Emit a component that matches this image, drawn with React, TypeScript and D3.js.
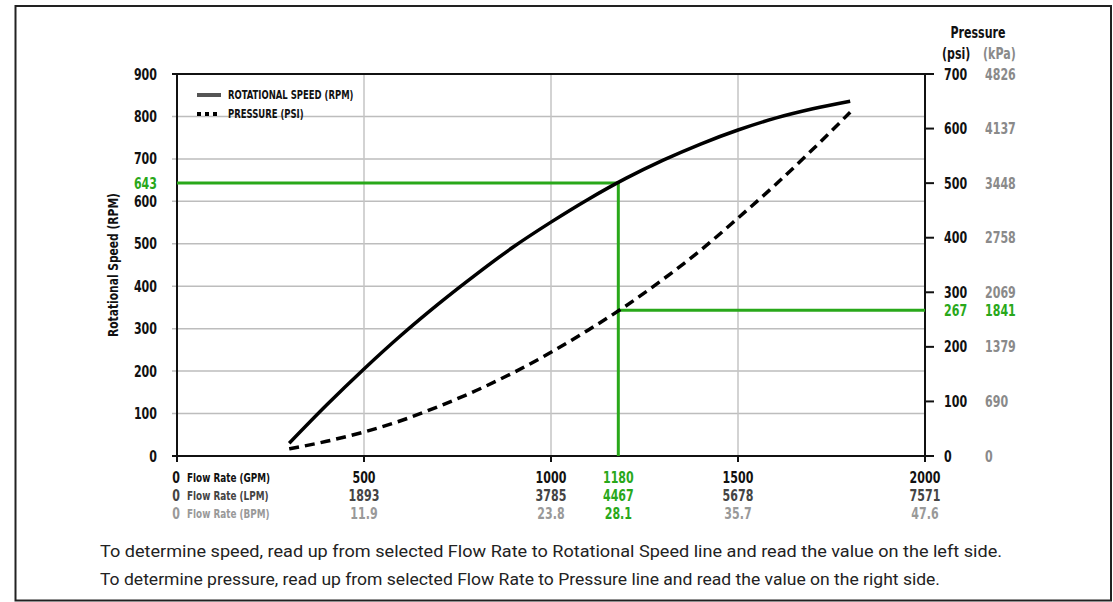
import { useMemo } from "react";
import * as d3 from "d3";

const flowGpm = [300, 400, 500, 600, 700, 800, 900, 1000, 1100, 1200, 1300, 1400, 1500, 1600, 1700, 1800];
const speedRpm = [30, 120, 205, 285, 359, 428, 493, 551, 605, 654, 697, 735, 768, 796, 818, 836];
const pressurePsi = [13, 27, 44, 65, 91, 120, 153, 190, 231, 275, 324, 377, 436, 497, 562, 630];

const gpmTicks = [500, 1000, 1500, 2000];
const lpmTicks = ["1893", "3785", "5678", "7571"];
const bpmTicks = ["11.9", "23.8", "35.7", "47.6"];
const rpmTicks = [0, 100, 200, 300, 400, 500, 600, 700, 800, 900];
const psiTicks = [0, 100, 200, 300, 400, 500, 600, 700];
const kpaTicks = ["0", "690", "1379", "2069", "2758", "3448", "4137", "4826"];

// highlighted reading
const selGpm = 1180;
const selLpm = "4467";
const selBpm = "28.1";
const selRpm = 643;
const selPsi = 267;
const selKpa = "1841";

const W = 1113;
const H = 602;
const plot = { left: 177, right: 925, top: 74, bottom: 456 };
const GREEN = "#29a81a";
const COND = "'DejaVu Sans Condensed', 'DejaVu Sans', sans-serif";
const SQUEEZE = 0.82;

// condensed label: DejaVu Condensed squeezed horizontally a bit more
function T({
  x,
  y,
  size = 15,
  fill = "#111",
  anchor = "start",
  rotate = 0,
  children,
}: {
  x: number;
  y: number;
  size?: number;
  fill?: string;
  anchor?: "start" | "middle" | "end";
  rotate?: number;
  children: any;
}) {
  return (
    <text
      transform={`translate(${x},${y}) rotate(${rotate}) scale(${SQUEEZE},1)`}
      fontSize={size}
      fill={fill}
      textAnchor={anchor}
    >
      {children}
    </text>
  );
}

export default function App() {
  const x = d3.scaleLinear().domain([0, 2000]).range([plot.left, plot.right]);
  const yL = d3.scaleLinear().domain([0, 900]).range([plot.bottom, plot.top]);
  const yR = d3.scaleLinear().domain([0, 700]).range([plot.bottom, plot.top]);

  const speedPath = useMemo(
    () =>
      d3
        .line<number>()
        .x((_d, i) => x(flowGpm[i]))
        .y((d) => yL(d))
        .curve(d3.curveMonotoneX)(speedRpm),
    []
  );
  const pressurePath = useMemo(
    () =>
      d3
        .line<number>()
        .x((_d, i) => x(flowGpm[i]))
        .y((d) => yR(d))
        .curve(d3.curveMonotoneX)(pressurePsi),
    []
  );

  const row1 = 483;
  const row2 = 501;
  const row3 = 519;

  return (
    <svg
      width={W}
      height={H}
      style={{ position: "absolute", left: 0, top: 0, background: "#fff" }}
      fontFamily={COND}
      fontWeight="bold"
    >
      {/* outer frame */}
      <rect x={15.5} y={6} width={1095.5} height={594.5} fill="none" stroke="#222" strokeWidth={2} />

      {/* grid */}
      {rpmTicks
        .filter((t) => t > 0 && t < 900)
        .map((t) => (
          <line key={"h" + t} x1={plot.left - 5} x2={plot.right} y1={yL(t)} y2={yL(t)} stroke="#bdbdbd" strokeWidth={1.5} />
        ))}
      {gpmTicks
        .filter((t) => t < 2000)
        .map((t) => (
          <line key={"v" + t} x1={x(t)} x2={x(t)} y1={plot.top} y2={plot.bottom} stroke="#c4c4c4" strokeWidth={1.5} />
        ))}

      {/* frame of plot */}
      <line x1={plot.left} x2={plot.right} y1={plot.top} y2={plot.top} stroke="#111" strokeWidth={2} />
      <line x1={plot.left - 5} x2={plot.right} y1={plot.bottom} y2={plot.bottom} stroke="#111" strokeWidth={2} />
      <line x1={plot.left} x2={plot.left} y1={plot.top} y2={plot.bottom + 6} stroke="#111" strokeWidth={2} />
      <line x1={plot.right} x2={plot.right} y1={plot.top} y2={plot.bottom + 6} stroke="#111" strokeWidth={2} />
      <line x1={plot.left - 5} x2={plot.left} y1={plot.top} y2={plot.top} stroke="#111" strokeWidth={2} />
      {gpmTicks.map((t) => (
        <line key={"bt" + t} x1={x(t)} x2={x(t)} y1={plot.bottom} y2={plot.bottom + 6} stroke="#111" strokeWidth={2} />
      ))}
      {psiTicks.map((t) => (
        <line key={"rt" + t} x1={plot.right} x2={plot.right + 9} y1={yR(t)} y2={yR(t)} stroke="#111" strokeWidth={2} />
      ))}

      {/* green reading lines */}
      <g stroke={GREEN} strokeWidth={3} fill="none">
        <line x1={plot.left} x2={x(selGpm)} y1={yL(selRpm)} y2={yL(selRpm)} />
        <line x1={x(selGpm)} x2={x(selGpm)} y1={yL(selRpm) - 1.5} y2={plot.bottom} />
        <line x1={x(selGpm)} x2={plot.right} y1={yR(selPsi)} y2={yR(selPsi)} />
      </g>

      {/* curves */}
      <path d={speedPath ?? ""} fill="none" stroke="#000" strokeWidth={3.5} />
      <path d={pressurePath ?? ""} fill="none" stroke="#000" strokeWidth={3.5} strokeDasharray="10,6" />

      {/* legend */}
      <line x1={197} x2={221} y1={95} y2={95} stroke="#555" strokeWidth={4} />
      <T x={228} y={99} size={11.5}>ROTATIONAL SPEED (RPM)</T>
      <line x1={197} x2={221} y1={114} y2={114} stroke="#000" strokeWidth={4} strokeDasharray="4,4" />
      <T x={228} y={118} size={11.5}>PRESSURE (PSI)</T>

      {/* left axis */}
      {rpmTicks.map((t) => (
        <T key={"l" + t} x={157} y={yL(t) + 5.5} anchor="end">
          {t}
        </T>
      ))}
      <T x={157} y={yL(selRpm) + 5.5} anchor="end" fill={GREEN}>
        {selRpm}
      </T>
      <T x={118} y={(plot.top + plot.bottom) / 2} size={14.5} anchor="middle" rotate={-90}>
        Rotational Speed (RPM)
      </T>

      {/* right axis */}
      <T x={978} y={38} size={15} anchor="middle">Pressure</T>
      <T x={942} y={59}>(psi)</T>
      <T x={983} y={59} fill="#8a8a8a">(kPa)</T>
      {psiTicks.map((t, i) => (
        <g key={"r" + t}>
          <T x={944} y={yR(t) + 5.5}>{t}</T>
          <T x={985} y={yR(t) + 5.5} fill="#8a8a8a">{kpaTicks[i]}</T>
        </g>
      ))}
      <T x={944} y={yR(selPsi) + 5.5} fill={GREEN}>{selPsi}</T>
      <T x={985} y={yR(selPsi) + 5.5} fill={GREEN}>{selKpa}</T>

      {/* bottom axis rows */}
      <T x={x(0) - 1} y={row1} anchor="middle">0</T>
      <T x={x(0) - 1} y={row2} anchor="middle" fill="#444">0</T>
      <T x={x(0) - 1} y={row3} anchor="middle" fill="#999">0</T>
      <T x={187} y={row1 - 1} size={12}>Flow Rate (GPM)</T>
      <T x={187} y={row2 - 1} size={12} fill="#444">Flow Rate (LPM)</T>
      <T x={187} y={row3 - 1} size={12} fill="#999">Flow Rate (BPM)</T>
      {gpmTicks.map((t, i) => (
        <g key={"b" + t}>
          <T x={x(t)} y={row1} anchor="middle">{t}</T>
          <T x={x(t)} y={row2} anchor="middle" fill="#444">{lpmTicks[i]}</T>
          <T x={x(t)} y={row3} anchor="middle" fill="#999">{bpmTicks[i]}</T>
        </g>
      ))}
      <T x={x(selGpm)} y={row1} anchor="middle" fill={GREEN}>{selGpm}</T>
      <T x={x(selGpm)} y={row2} anchor="middle" fill={GREEN}>{selLpm}</T>
      <T x={x(selGpm)} y={row3} anchor="middle" fill={GREEN}>{selBpm}</T>

      {/* notes */}
      <g fontFamily="Roboto, sans-serif" fontWeight="normal" fontSize={17} fill="#222">
        <text x={100} y={557} textLength={902} lengthAdjust="spacingAndGlyphs">
          To determine speed, read up from selected Flow Rate to Rotational Speed line and read the value on the left side.
        </text>
        <text x={100} y={585} textLength={840} lengthAdjust="spacingAndGlyphs">
          To determine pressure, read up from selected Flow Rate to Pressure line and read the value on the right side.
        </text>
      </g>
    </svg>
  );
}
